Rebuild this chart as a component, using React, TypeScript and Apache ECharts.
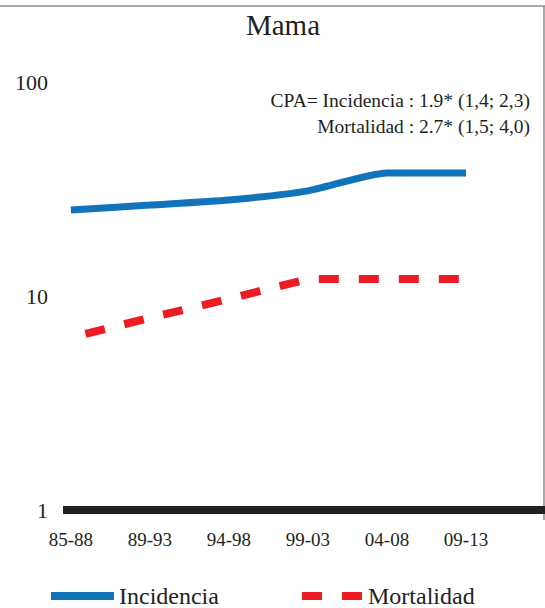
import React, { useEffect, useRef } from "react";
import * as echarts from "echarts";

const categories = ["85-88", "89-93", "94-98", "99-03", "04-08", "09-13"];
const incidencia = [25.2, 26.6, 28.1, 31.0, 37.6, 37.6];
const mortalidad = [6.4, 7.9, 9.7, 12.0, 12.0, 12.0];
const yTicks = [1, 10, 100];
const titleText = "Mama";
const noteLines = ["CPA= Incidencia : 1.9* (1,4; 2,3)", "Mortalidad : 2.7* (1,5; 4,0)"];

const FONT = "'Liberation Serif', 'Times New Roman', serif";
const TXT = "#231f20";
const BLUE = "#1173ba";
const RED = "#ed1c24";

export default function App() {
  const ref = useRef<HTMLDivElement>(null);
  useEffect(() => {
    if (!ref.current) return;
    const chart = echarts.init(ref.current, undefined, { renderer: "svg" });
    const idx = categories.map((_, i) => i);
    const legendBase = {
      top: 584,
      padding: 0,
      itemHeight: 14,
      itemStyle: { opacity: 0 },
      textStyle: { fontFamily: FONT, fontSize: 24, color: TXT },
    };
    chart.setOption({
      animation: false,
      backgroundColor: "#ffffff",
      grid: { left: 63, right: 0, top: 82, bottom: 98 },
      xAxis: {
        type: "value",
        min: -0.1,
        max: 6,
        axisLine: { show: true, lineStyle: { color: TXT, width: 8, cap: "butt" } },
        axisTick: { show: false },
        splitLine: { show: false },
        axisLabel: {
          customValues: idx,
          formatter: (v: number) => categories[Math.round(v)] ?? "",
          fontFamily: FONT,
          fontSize: 19,
          color: TXT,
          margin: 20,
        },
      },
      yAxis: {
        type: "log",
        logBase: 10,
        min: yTicks[0],
        max: yTicks[yTicks.length - 1],
        axisLine: { show: false },
        axisTick: { show: false },
        splitLine: { show: false },
        axisLabel: {
          fontFamily: FONT,
          fontSize: 22,
          color: TXT,
          margin: 15,
        },
      },
      legend: [
        {
          ...legendBase,
          data: ["Incidencia"],
          left: 47,
          itemWidth: 63,
          lineStyle: { width: 8 },
        },
        {
          ...legendBase,
          data: ["Mortalidad"],
          left: 298,
          itemWidth: 61,
          lineStyle: { width: 8, dashOffset: 0 },
        },
      ],
      series: [
        {
          name: "Incidencia",
          type: "line",
          data: incidencia.map((v, i) => [i, v]),
          showSymbol: false,
          symbol: "none",
          smooth: 0.2,
          color: BLUE,
          lineStyle: { color: BLUE, width: 7, cap: "butt" },
        },
        {
          name: "Mortalidad",
          type: "line",
          data: mortalidad.map((v, i) => [i, v]),
          showSymbol: false,
          symbol: "none",
          color: RED,
          lineStyle: { color: RED, width: 8, type: [20, 20], dashOffset: 25, cap: "butt" },
        },
      ],
      graphic: [
        {
          type: "line",
          shape: { x1: 0, y1: 6, x2: 545, y2: 6 },
          style: { stroke: "#8c8c8c", lineWidth: 1.5 },
        },
        {
          type: "line",
          shape: { x1: 544, y1: 6, x2: 544, y2: 520 },
          style: { stroke: "#8c8c8c", lineWidth: 1.5 },
        },
        {
          type: "text",
          x: 283,
          y: 25,
          style: {
            text: titleText,
            font: `29px ${FONT}`,
            fill: TXT,
            align: "center",
            verticalAlign: "middle",
          },
        },
        {
          type: "text",
          x: 530,
          y: 87,
          style: {
            text: noteLines.join("\n"),
            font: `19.5px ${FONT}`,
            lineHeight: 26,
            fill: TXT,
            align: "right",
            verticalAlign: "top",
          },
        },
      ],
    });
    return () => chart.dispose();
  }, []);
  return (
    <div
      ref={ref}
      style={{ position: "absolute", left: 0, top: 0, width: 545, height: 608 }}
    />
  );
}
